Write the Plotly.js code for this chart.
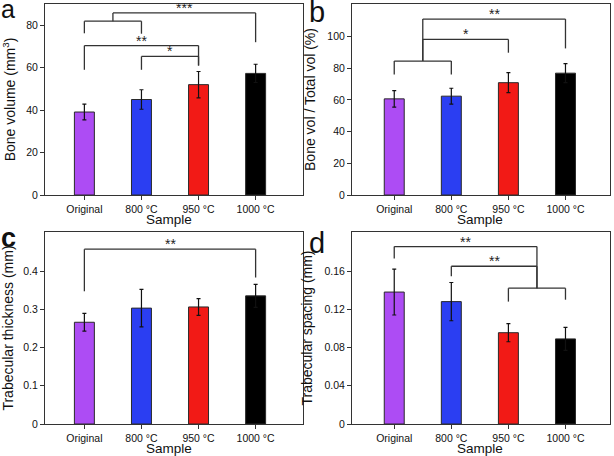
<!DOCTYPE html>
<html>
<head>
<meta charset="utf-8">
<script src="https://cdn.plot.ly/plotly-3.0.1.min.js"></script>
<style>html,body{margin:0;padding:0;background:#fff;}#chart{width:614px;height:456px;}</style>
</head>
<body>
<div id="chart"></div>
<script>
// ---- Data ----
const categories = ['Original', '800 °C', '950 °C', '1000 °C'];
const barColors = ['#ad4cf4', '#2b3ef2', '#f21a16', '#000000'];

const boneVolume = [39.1, 45.0, 52.0, 57.3];
const boneVolumeErr = [3.7, 4.6, 6.2, 4.3];

const boneVolFrac = [60.6, 62.3, 70.8, 76.8];
const boneVolFracErr = [5.2, 5.0, 6.3, 6.0];

const trabThickness = [0.266, 0.303, 0.306, 0.335];
const trabThicknessErr = [0.023, 0.049, 0.022, 0.030];

const trabSpacing = [0.138, 0.128, 0.0955, 0.089];
const trabSpacingErr = [0.024, 0.020, 0.0095, 0.012];

// significance brackets: [xLeft, xRight, yBar, yLegLeftEnd, yLegRightEnd, label]
const sigA = [
  [0, 1, 81.9, 76.2, 76.0, ''],
  [0.5, 3, 85.8, 81.9, 72.0, '***'],
  [0, 2, 70.4, 59.0, 61.0, '**'],
  [1, 2, 65.3, 59.0, 61.0, '*']
];
const sigB = [
  [0, 1, 84.4, 76.0, 76.0, ''],
  [0.5, 2, 98.1, 84.4, 89.7, '*'],
  [0.5, 3, 110.9, 84.4, 92.4, '**']
];
const sigC = [
  [0, 3, 0.457, 0.347, 0.383, '**']
];
const sigD = [
  [2, 3, 0.142, 0.128, 0.130, ''],
  [0, 2.5, 0.1856, 0.173, 0.142, '**'],
  [1, 2.5, 0.165, 0.1545, 0.142, '**']
];

const yTicksA = [0, 20, 40, 60, 80];
const yTicksB = [0, 20, 40, 60, 80, 100];
const yTicksC = [0, 0.1, 0.2, 0.3, 0.4];
const yTicksCText = ['0', '0.1', '0.2', '0.3', '0.4'];
const yTicksD = [0, 0.04, 0.08, 0.12, 0.16];
const yTicksDText = ['0', '0.04', '0.08', '0.12', '0.16'];
const xTitle = 'Sample';
const panelLetters = ['a', 'b', 'c', 'd'];

// ---- Build ----
const FONT = 'Liberation Sans, Arial, sans-serif';
const LINE = '#333333';
const W = 614, H = 456;
// lx/lb: letter left edge and baseline (px), lf: letter font size
const panels = [
  {vals: boneVolume, err: boneVolumeErr, sig: sigA, xa: 'x', ya: 'y', ax: '', title: 'Bone volume (mm<sup>3</sup>)', range: [0, 90], tv: yTicksA, tt: yTicksA.map(String), xr: [-0.69, 3.83], xd: [45 / W, 303 / W], yd: [1 - 195 / H, 1 - 4 / H], lx: -1, lb: 18.5, lf: 25, lbold: false, tx: 169, ty: 219},
  {vals: boneVolFrac, err: boneVolFracErr, sig: sigB, xa: 'x2', ya: 'y2', ax: '2', title: 'Bone vol / Total vol (%)', range: [0, 120.4], tv: yTicksB, tt: yTicksB.map(String), xr: [-0.74, 3.78], xd: [352 / W, 610 / W], yd: [1 - 195 / H, 1 - 4 / H], lx: 307, lb: 23.3, lf: 29, lbold: false, tx: 480, ty: 220},
  {vals: trabThickness, err: trabThicknessErr, sig: sigC, xa: 'x3', ya: 'y3', ax: '3', title: 'Trabecular thickness (mm)', range: [0, 0.502], tv: yTicksC, tt: yTicksCText, xr: [-0.69, 3.83], xd: [45 / W, 303 / W], yd: [1 - 424 / H, 1 - 232 / H], lx: -1, lb: 248.5, lf: 27, lbold: true, tx: 169, ty: 448},
  {vals: trabSpacing, err: trabSpacingErr, sig: sigD, xa: 'x4', ya: 'y4', ax: '4', title: 'Trabecular spacing (mm)', range: [0, 0.2008], tv: yTicksD, tt: yTicksDText, xr: [-0.74, 3.78], xd: [352 / W, 610 / W], yd: [1 - 424 / H, 1 - 232 / H], lx: 307, lb: 254, lf: 29, lbold: false, tx: 480, ty: 448}
];

const data = [];
const shapes = [];
const annotations = [];
const layout = {
  width: W, height: H,
  margin: {l: 0, r: 0, t: 0, b: 0},
  paper_bgcolor: '#ffffff', plot_bgcolor: '#ffffff',
  showlegend: false,
  font: {family: FONT, color: '#111111', size: 10.5},
  shapes: shapes, annotations: annotations
};

panels.forEach((p, i) => {
  data.push({
    type: 'bar', x: categories, y: p.vals, xaxis: p.xa, yaxis: p.ya,
    width: 0.35,
    marker: {color: barColors, line: {color: '#2a2a2a', width: 1}},
    error_y: {type: 'data', array: p.err, visible: true, color: '#111111', thickness: 1.2, width: 2},
    hoverinfo: 'none'
  });
  const axCommon = {
    showline: true, mirror: true, linecolor: LINE, linewidth: 1,
    ticks: 'outside', ticklen: 4, tickcolor: LINE, tickwidth: 1,
    showgrid: false, zeroline: false, fixedrange: true,
    tickfont: {family: FONT, size: 10.5, color: '#111111'}
  };
  layout['xaxis' + p.ax] = Object.assign({}, axCommon, {
    type: 'category', domain: p.xd, anchor: p.ya, range: p.xr
  });
  layout['yaxis' + p.ax] = Object.assign({}, axCommon, {
    domain: p.yd, anchor: p.xa, range: p.range,
    tickmode: 'array', tickvals: p.tv, ticktext: p.tt,
    title: {text: p.title, font: {family: FONT, size: 14, color: '#111111'}, standoff: 8}
  });
  p.sig.forEach(s => {
    const [x0, x1, yb, yl0, yl1, label] = s;
    const ln = {color: LINE, width: 1.3};
    shapes.push({type: 'line', xref: p.xa, yref: p.ya, x0: x0, x1: x0, y0: yl0, y1: yb, line: ln});
    shapes.push({type: 'line', xref: p.xa, yref: p.ya, x0: x0, x1: x1, y0: yb, y1: yb, line: ln});
    shapes.push({type: 'line', xref: p.xa, yref: p.ya, x0: x1, x1: x1, y0: yb, y1: yl1, line: ln});
    if (label) {
      annotations.push({xref: p.xa, yref: p.ya, x: (x0 + x1) / 2, y: yb, text: label,
        showarrow: false, yanchor: 'bottom', yshift: -5,
        font: {family: FONT, size: 14, color: '#222222'}});
    }
  });
  // x-axis title
  annotations.push({xref: 'paper', yref: 'paper', x: p.tx / W, y: 1 - p.ty / H,
    xanchor: 'center', yanchor: 'middle', text: xTitle, showarrow: false,
    font: {family: FONT, size: 13.5, color: '#111111'}});
  // panel letter, bottom of box = baseline + descent + pad
  const boxBottom = p.lb + 0.212 * p.lf + 1;
  annotations.push({xref: 'paper', yref: 'paper', x: p.lx / W, y: 1 - boxBottom / H,
    xanchor: 'left', yanchor: 'bottom',
    text: p.lbold ? '<b>' + panelLetters[i] + '</b>' : panelLetters[i], showarrow: false,
    font: {family: FONT, size: p.lf, color: '#111111'}});
});

Plotly.newPlot('chart', data, layout, {displayModeBar: false, staticPlot: true});
</script>
</body>
</html>
